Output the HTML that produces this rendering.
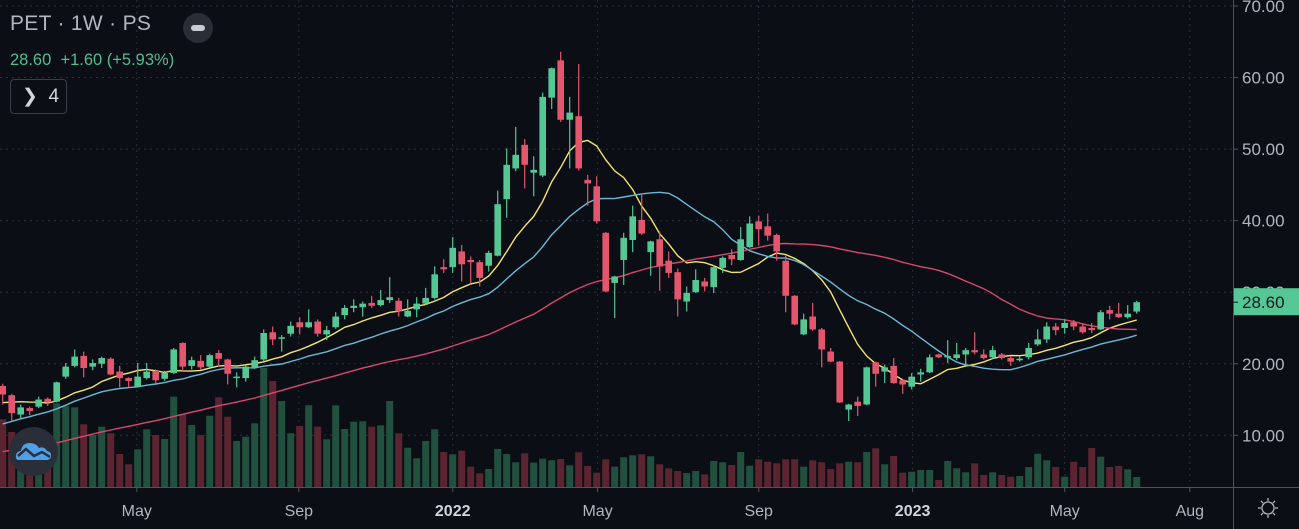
<!DOCTYPE html>
<html><head><meta charset="utf-8"><title>PET 1W chart</title>
<style>
html,body{margin:0;padding:0;background:#0c0e15;width:1299px;height:529px;overflow:hidden;font-family:"Liberation Sans",sans-serif}
#wrap{position:relative;width:1299px;height:529px}
svg{position:absolute;left:0;top:0}
.hdr{position:absolute;left:10px;top:12px;color:#b2b5be;font-size:21px;letter-spacing:0.3px}
.quote{position:absolute;left:10px;top:51px;color:#4fbf8e;font-size:16.5px}
.minus{position:absolute;left:183px;top:13px;width:30px;height:30px;border-radius:50%;background:#2a2d36}
.minus:after{content:"";position:absolute;left:8px;top:12px;width:14px;height:6px;border-radius:3px;background:#c9ccd3}
.ind{position:absolute;left:10px;top:79px;width:57px;height:35px;border:1px solid #3a3e48;border-radius:4px;box-sizing:border-box;color:#d1d4dc;font-size:19px;line-height:33px;padding-left:11px}
.logo{position:absolute;left:9px;top:427px;width:49px;height:49px;border-radius:50%;background:#2a2e39}
</style></head><body>
<div id="wrap">
<svg id="chart" width="1299" height="529"></svg>
<div class="hdr">PET · 1W · PS</div>
<div class="minus"></div>
<div class="quote">28.60&nbsp; +1.60 (+5.93%)</div>
<div class="ind">&#x276F;&nbsp; 4</div>
<div class="logo">
<svg width="49" height="49" viewBox="0 0 49 49"><path d="M10 33 Q6 33 7 28 Q8 24 12 24 Q13 16 21 16 Q27 16 30 21 Q35 19 38 24 Q43 25 42 30 Q41 33 37 33 Z" fill="#4ea0e8"/><path d="M9 29 L17 22 L25 29 L33 25 L41 30" stroke="#2a2e39" stroke-width="2.5" fill="none"/></svg>
</div>
</div>
<script>
const opens=[16.9,15.6,12.9,13.8,14.0,15.1,14.7,18.2,19.7,21.1,19.6,20.0,20.7,18.9,18.0,16.8,18.0,19.0,17.9,18.7,22.9,19.7,20.4,19.6,21.5,20.6,18.0,18.0,19.5,20.6,24.4,23.5,24.2,25.8,25.1,25.9,24.1,25.1,26.8,27.8,27.9,28.5,28.2,28.9,28.8,26.6,27.6,28.4,29.2,33.5,33.5,35.7,34.5,34.2,33.7,35.1,43.0,47.3,50.6,46.7,46.3,57.2,62.4,54.1,54.6,45.7,44.8,38.3,31.3,34.5,37.3,40.1,35.6,37.4,34.4,32.8,28.7,30.0,31.5,30.7,33.4,35.2,34.5,36.3,39.9,39.2,38.0,34.4,29.5,24.1,26.6,24.8,21.7,20.3,13.6,14.7,14.3,20.2,18.9,19.7,17.7,16.8,18.5,18.8,21.3,20.9,20.8,21.3,21.9,21.3,20.9,21.3,20.8,20.5,20.9,22.7,23.4,25.2,25.0,25.8,25.2,25.0,24.8,27.5,27.0,26.5,27.3];
const highs=[17.2,15.8,14.3,14.0,15.4,15.3,17.5,20.1,22.0,21.7,20.6,21.0,20.9,19.7,18.1,20.1,20.1,19.2,19.0,22.2,23.0,21.0,21.2,21.4,21.9,20.7,18.8,19.8,21.0,24.8,25.2,24.0,25.9,26.5,27.6,26.2,25.3,27.2,28.2,29.0,28.7,29.5,30.3,32.1,29.2,29.0,29.3,30.6,33.6,34.6,37.7,36.6,35.0,34.5,35.8,44.2,50.1,53.1,51.4,49.0,57.9,61.4,63.6,57.3,61.9,46.4,46.2,38.4,32.3,38.3,42.1,43.8,37.2,38.5,35.7,33.3,30.8,33.2,32.0,33.8,35.0,36.0,39.1,40.6,40.7,41.0,38.2,35.1,29.6,27.0,28.5,25.0,22.2,20.4,14.4,15.4,19.6,20.3,19.9,20.8,17.8,18.7,19.3,21.3,21.4,23.3,22.9,22.2,24.4,22.0,22.5,21.5,21.1,21.0,22.9,24.8,25.8,25.7,26.2,26.1,25.7,25.7,27.5,28.1,28.5,28.2,28.8];
const lows=[14.3,11.9,12.2,12.8,13.8,14.1,14.6,17.9,19.5,18.1,19.1,19.4,18.4,16.7,16.7,16.7,17.8,17.2,17.6,18.6,18.9,19.2,19.2,19.5,19.6,17.1,16.7,17.5,19.3,20.4,22.6,21.7,23.8,24.1,25.0,23.8,23.3,24.9,26.2,27.2,26.6,27.8,28.0,28.5,26.6,26.5,26.5,28.2,29.0,32.7,32.7,31.5,31.3,30.8,32.9,35.0,40.4,46.9,44.5,43.4,46.1,55.6,53.8,47.3,47.0,42.1,39.6,30.0,26.4,31.0,35.6,38.0,32.3,30.2,32.0,26.6,27.3,29.9,30.1,29.9,32.7,33.8,34.4,36.2,36.5,37.2,34.4,27.2,25.4,24.0,24.6,19.5,20.2,14.5,12.0,12.7,14.2,16.8,17.3,17.2,15.8,16.4,17.5,18.7,20.8,20.1,20.5,19.9,21.3,20.6,20.6,20.6,19.7,20.3,20.6,22.5,22.9,24.0,24.2,24.7,24.2,24.3,24.7,26.2,26.4,26.3,27.0];
const closes=[15.7,13.1,13.9,13.4,15.0,14.6,17.4,19.6,21.0,19.4,20.1,20.8,18.5,18.0,17.6,18.2,18.9,17.7,18.7,22.0,19.6,20.5,19.5,21.2,20.7,18.6,18.2,19.6,20.5,24.3,23.4,23.7,25.3,25.1,25.8,24.2,24.7,26.6,27.8,28.1,28.4,28.1,28.9,29.3,27.3,27.4,28.4,29.2,32.5,33.2,36.2,33.9,34.2,32.0,35.5,42.3,47.8,49.2,47.8,47.1,57.3,61.3,54.1,55.1,47.3,45.2,39.9,30.1,32.2,37.6,40.6,38.2,37.1,33.6,32.7,29.0,29.9,31.7,30.8,33.5,34.8,34.6,37.4,39.6,38.8,37.9,35.7,29.5,25.5,26.2,24.8,22.0,20.3,14.6,14.3,14.1,19.5,18.6,19.5,17.3,17.1,18.2,18.8,20.9,20.9,21.1,21.3,21.9,21.6,20.8,21.9,20.8,20.3,20.7,22.2,23.4,25.2,24.7,25.7,25.2,24.4,24.7,27.2,27.0,26.5,27.0,28.6];
const volumes=[667,540,500,450,450,500,827,800,787,617,510,593,527,320,217,367,567,510,470,893,717,610,510,703,887,693,450,493,627,1180,1050,850,527,600,807,593,467,807,570,643,647,593,607,850,527,383,277,450,567,340,317,353,193,127,170,370,320,237,327,233,273,257,270,207,337,200,133,267,193,287,307,317,297,217,177,150,130,150,117,250,237,210,340,203,267,243,227,267,267,193,257,237,170,227,243,237,340,377,217,300,133,143,160,160,60,250,177,137,227,110,137,110,93,100,190,323,257,190,93,243,190,380,293,190,200,167,90];
const priorCloses=[4.2,4.3,4.5,4.4,4.6,4.7,4.6,4.8,4.9,4.8,5.0,5.1,4.9,5.0,5.2,5.1,5.3,5.2,5.4,5.3,5.5,5.4,5.6,5.5,5.7,5.6,5.8,5.9,6.0,6.1,6.2,6.8,7.4,7.9,8.3,8.8,9.4,9.9,10.6,11.0,12.5,13.2,14.0,15.1,15.8,14.6,14.2,14.9,15.7];
const priceTicks=[10,20,30,40,50,60,70];
const priceTickLabels=["10.00","20.00","30.00","40.00","50.00","60.00","70.00"];
const dateTickIdx=[14.9,32.9,50,66.1,84,101.1,118,131.9];
const dateTickLabels=["May","Sep","2022","May","Sep","2023","May","Aug"];
const dateTickBold=[false,false,true,false,false,true,false,false];
const maPeriods=[10,20,50];
const maColors=["#f2e56f","#6db7d4","#d8476c"];
const lastPrice=28.6;

const NS="http://www.w3.org/2000/svg";
const svg=document.getElementById('chart');
const PLOT_R=1233, AXIS_Y=487;
function xS(i){return 2.7+i*9;}
function yS(p){return 6+(70-p)*7.155;}
const vMax=Math.max(...volumes);
function vS(v){return AXIS_Y-1-v/vMax*118;}
function mk(tag,attrs,parent){const e=document.createElementNS(NS,tag);for(const k in attrs)e.setAttribute(k,attrs[k]);(parent||svg).appendChild(e);return e;}

// grid
const grid=mk('g',{});


priceTicks.forEach(p=>{mk('line',{x1:0,x2:PLOT_R,y1:yS(p),y2:yS(p),stroke:'#2b2f3a','stroke-dasharray':'2 4','stroke-width':1},grid);});
dateTickIdx.forEach(i=>{mk('line',{x1:xS(i),x2:xS(i),y1:0,y2:AXIS_Y,stroke:'#2b2f3a','stroke-dasharray':'2 4','stroke-width':1},grid);});

// volume
const vg=mk('g',{});


volumes.forEach((v,i)=>{const up=closes[i]>=opens[i];const y=vS(v);
 const r=mk('rect',{x:xS(i)-3.5,y:y,width:7,height:AXIS_Y-y,fill:up?'#22503f':'#5a2530'},vg);
 
 });

// moving averages
const all=priorCloses.concat(closes), off=priorCloses.length;
maPeriods.forEach((n,k)=>{let d='';
 for(let i=0;i<closes.length;i++){let s=0;for(let j=0;j<n;j++)s+=all[off+i-j];const m=s/n;d+=(i?'L':'M')+xS(i).toFixed(1)+' '+yS(m).toFixed(1);}
 const p=mk('path',{d:d,fill:'none',stroke:maColors[k],'stroke-width':1.4});
 
 });

// candles
const cg=mk('g',{});


closes.forEach((c,i)=>{const o=opens[i],up=c>=o,col=up?'#55c795':'#e4566d',x=xS(i);
 const g=mk('g',{},cg);
 
 
 mk('line',{x1:x,x2:x,y1:yS(highs[i]),y2:yS(lows[i]),stroke:col,'stroke-width':1.2},g);
 const t=yS(Math.max(o,c)),b=yS(Math.min(o,c));
 mk('rect',{x:x-3.3,y:t,width:6.6,height:Math.max(1.5,b-t),fill:col},g);});

// axes
mk('rect',{x:PLOT_R,y:0,width:1299-PLOT_R,height:529,fill:'#0c0e15'});
mk('line',{x1:PLOT_R+0.5,x2:PLOT_R+0.5,y1:0,y2:529,stroke:'#50535e','stroke-width':1});
mk('line',{x1:0,x2:1299,y1:AXIS_Y+0.5,y2:AXIS_Y+0.5,stroke:'#50535e','stroke-width':1});
priceTicks.forEach((p,k)=>{mk('line',{x1:PLOT_R,x2:PLOT_R+5,y1:yS(p),y2:yS(p),stroke:'#50535e'});
 const t=mk('text',{x:PLOT_R+9,y:yS(p)+6,fill:'#b2b5be','font-size':17,'font-family':'Liberation Sans, sans-serif'});
 t.textContent=priceTickLabels[k];
 
 });
dateTickIdx.forEach((i,k)=>{mk('line',{x1:xS(i),x2:xS(i),y1:AXIS_Y,y2:AXIS_Y+5,stroke:'#50535e'});
 const t=mk('text',{x:xS(i),y:516,fill:dateTickBold[k]?'#d1d4dc':'#b2b5be','font-size':16,'font-weight':dateTickBold[k]?'bold':'normal','text-anchor':'middle','font-family':'Liberation Sans, sans-serif'});
 t.textContent=dateTickLabels[k];
 
 });
// last price label
const ly=yS(lastPrice);
const lb=mk('g',{});


mk('rect',{x:PLOT_R+1,y:ly-14,width:1299-PLOT_R-1,height:27,fill:'#55c795'},lb);
mk('line',{x1:PLOT_R,x2:PLOT_R+5,y1:ly,y2:ly,stroke:'#131722'},lb);
const lt=mk('text',{x:PLOT_R+9,y:ly+6,fill:'#131722','font-size':17,'font-family':'Liberation Sans, sans-serif'},lb);
lt.textContent=lastPrice.toFixed(2);
// settings icon
const gi=mk('g',{transform:'translate(1268,508)'});


mk('circle',{cx:0,cy:0,r:6,fill:'none',stroke:'#b2b5be','stroke-width':1.3},gi);
for(let a=0;a<8;a++){const r=a*Math.PI/4;mk('line',{x1:Math.cos(r)*7,y1:Math.sin(r)*7,x2:Math.cos(r)*10,y2:Math.sin(r)*10,stroke:'#b2b5be','stroke-width':1.3},gi);}
</script>
</body></html>
